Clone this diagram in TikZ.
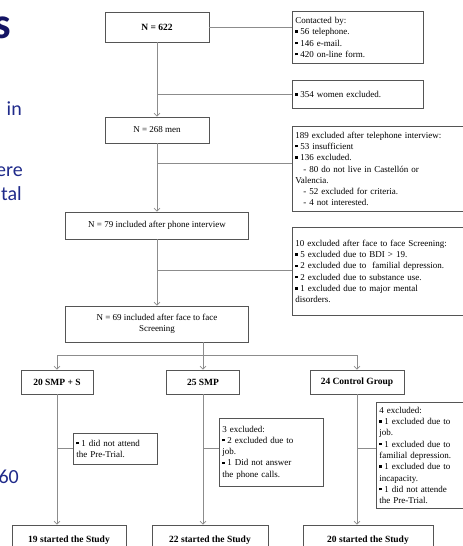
\documentclass[tikz,border=0pt]{standalone}
\usepackage{fontspec}
\setmainfont{Liberation Serif}
\newfontfamily\slidefont{Carlito}
\usetikzlibrary{arrows.meta}
\definecolor{boxline}{HTML}{555555}
\definecolor{conn}{HTML}{8C8C8C}
\definecolor{slideblue}{HTML}{1F2A8A}
\definecolor{slidenavy}{HTML}{141464}
% small square bullet used in the exclusion lists
\newcommand\sq{\raisebox{2pt}{\rule{2.4pt}{2.4pt}}\hspace{2.6pt}}
\begin{document}
\begin{tikzpicture}[x=1pt,y=-1pt,
  box/.style={draw=boxline, line width=0.9pt, fill=white, inner sep=0pt,
    font=\fontsize{9}{11.3}\selectfont, align=center},
  boldbox/.style={box, font=\fontsize{9.5}{11.3}\selectfont\bfseries},
  listbox/.style={box, align=left, anchor=north west, inner xsep=3pt, inner ysep=3pt},
  link/.style={draw=conn, line width=0.8pt},
  flow/.style={link, -{Straight Barb[length=3pt,width=6pt,line width=0.6pt]}},
  slidetext/.style={anchor=base east, inner sep=0pt, text=slideblue,
    font=\slidefont\fontsize{20}{24}\selectfont}
]
\useasboundingbox (0,0) rectangle (463,546);

% fragments of the surrounding slide text
\node[slidetext, text=slidenavy, font=\slidefont\bfseries\fontsize{44}{44}\selectfont] (ttl) at (11,38) {s};
\node[slidetext] (t1) at (22,115) {in};
\node[slidetext] (t2) at (23,176) {ere};
\node[slidetext] (t3) at (22,200) {tal};
\node[slidetext] (t4) at (19,483) {60};

% main column
\node[boldbox, minimum width=104pt, minimum height=30pt] (n622) at (157,27) {N = 622};
\node[box, minimum width=104pt, minimum height=26pt] (n268) at (157,130) {N = 268 men};
\node[box, minimum width=183pt, minimum height=27pt] (n79) at (157,225.5) {N = 79 included after phone interview};
\node[box, minimum width=183pt, minimum height=36pt] (n69) at (157,324) {N = 69 included after face to face\\Screening};

% side boxes of the main column
\node[listbox, text width=125pt, minimum height=52pt] (contact) at (292,11)
  {Contacted by:\\\sq 56 telephone.\\\sq 146 e-mail.\\\sq 420 on-line form.};
\node[listbox, text width=125pt, minimum height=28pt] (women) at (292,80)
  {\sq 354 women excluded.};
\node[listbox, text width=174pt, minimum height=85pt] (ex189) at (292,126)
  {189 excluded after telephone interview:\\\sq 53 insufficient\\\sq 136 excluded.\\
   \hspace*{8pt}- 80 do not live in Castellón or\\Valencia.\\
   \hspace*{8pt}- 52 excluded for criteria.\\\hspace*{8pt}- 4 not interested.};
\node[listbox, text width=174pt, minimum height=88pt] (ex10) at (292,227)
  {10 excluded after face to face Screening:\\\sq 5 excluded due to BDI > 19.\\
   \sq 2 excluded due to\ \ familial depression.\\\sq 2 excluded due to substance use.\\
   \sq 1 excluded due to major mental\\disorders.};

% groups
\node[boldbox, minimum width=72pt, minimum height=24pt] (smps) at (57,382) {20 SMP + S};
\node[boldbox, minimum width=73pt, minimum height=24pt] (smp) at (203,382) {25 SMP};
\node[boldbox, minimum width=94pt, minimum height=24pt] (ctrl) at (357,382) {24 Control Group};

\node[listbox, text width=78pt, minimum height=31pt] (ex1) at (73,433)
  {\sq 1 did not attend\\the Pre-Trial.};
\node[listbox, text width=98pt, minimum height=68pt] (ex3) at (219,418)
  {3 excluded:\\\sq 2 excluded due to\\job.\\\sq 1 Did not answer\\the phone calls.};
\node[listbox, text width=94pt, minimum height=106pt] (ex4) at (376,402)
  {4 excluded:\\\sq 1 excluded due to\\job.\\\sq 1 excluded due to\\familial depression.\\
   \sq 1 excluded due to\\incapacity.\\\sq 1 did not attende\\the Pre-Trial.};

\node[boldbox, minimum width=114pt, minimum height=30pt] (s19) at (69,540) {19 started the Study};
\node[boldbox, minimum width=116pt, minimum height=30pt] (s22) at (210,540) {22 started the Study};
\node[boldbox, minimum width=130pt, minimum height=30pt] (s20) at (368,540) {20 started the Study};

% branch points
\coordinate (c1) at (157,94);
\coordinate (c2) at (157,163);
\coordinate (c3) at (157,270);
\coordinate (split) at (203,355);
\coordinate (b1) at (57,448);
\coordinate (b2) at (203,448);
\coordinate (b3) at (357,448);

% connectors
\draw[link] (n622.east) -- (n622.east -| contact.west);
\draw[flow] (n622.south) -- (n268.north);
\draw[link] (c1) -- (c1 -| women.west);
\draw[flow] (n268.south) -- (n79.north);
\draw[link] (c2) -- (c2 -| ex189.west);
\draw[flow] (n79.south) -- (n69.north);
\draw[link] (c3) -- (c3 -| ex10.west);

\draw[link] (split |- n69.south) -- (split);
\draw[link] (split -| smps.north) -- (split -| ctrl.north);
\draw[flow] (split -| smps.north) -- (smps.north);
\draw[flow] (split) -- (smp.north);
\draw[flow] (split -| ctrl.north) -- (ctrl.north);

\draw[flow] (smps.south) -- (smps.south |- s19.north);
\draw[flow] (smp.south) -- (smp.south |- s22.north);
\draw[flow] (ctrl.south) -- (ctrl.south |- s20.north);
\draw[link] (b1) -- (b1 -| ex1.west);
\draw[link] (b2) -- (b2 -| ex3.west);
\draw[link] (b3) -- (b3 -| ex4.west);
\end{tikzpicture}
\end{document}
